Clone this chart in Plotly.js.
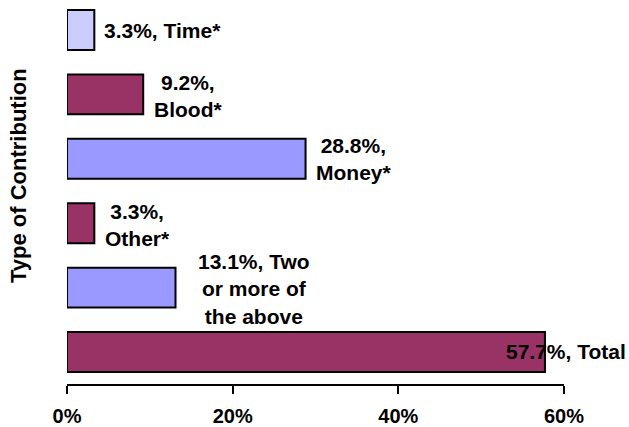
<!DOCTYPE html>
<html>
<head>
<meta charset="utf-8">
<script src="https://cdn.plot.ly/plotly-3.0.1.min.js"></script>
<style>html,body{margin:0;padding:0;background:#fff;}#chart{width:629px;height:427px;}</style>
</head>
<body>
<div id="chart"></div>
<script>
var categories = ["Time", "Blood", "Money", "Other", "Two or more of the above", "Total"];
var values = [3.3, 9.2, 28.8, 3.3, 13.1, 57.7];
var labels = ["3.3%, Time*", "9.2%,<br>Blood*", "28.8%,<br>Money*", "3.3%,<br>Other*", "13.1%, Two<br>or more of<br>the above", "57.7%, Total"];
var colors = ["#ccccff", "#993366", "#9999ff", "#993366", "#9999ff", "#993366"];
var tickVals = [0, 20, 40, 60];
var tickText = ["0%", "20%", "40%", "60%"];
var yTitle = "Type of Contribution";

var labelShift = [8, 9, 8, 9, 20, -41];
var labelYShift = [0, -2, 0, -2, -1, 0];

var font = "Liberation Sans, Arial, sans-serif";

var trace = {
  type: "bar",
  orientation: "h",
  x: values,
  y: categories,
  marker: {color: colors, line: {color: "#000", width: 2}},
  width: 0.62,
  hoverinfo: "none"
};

var annotations = values.map(function(v, i) {
  return {
    x: v, y: categories[i], xref: "x", yref: "y",
    text: "<b>" + labels[i] + "</b>",
    showarrow: false, xanchor: "left", yanchor: "middle",
    xshift: labelShift[i], yshift: labelYShift[i], align: "center",
    font: {family: font, size: 21, color: "#000"}
  };
});
annotations.push({
  xref: "paper", yref: "paper", x: 0, y: 0.5417,
  xshift: -48, xanchor: "center", yanchor: "middle",
  text: "<b>" + yTitle + "</b>", textangle: -90, showarrow: false,
  font: {family: font, size: 22, color: "#000"}
});

var layout = {
  width: 629, height: 427,
  margin: {l: 67, r: 65, t: 0, b: 43},
  paper_bgcolor: "#fff", plot_bgcolor: "#fff",
  showlegend: false,
  xaxis: {
    range: [0, 60], tickvals: tickVals, ticktext: tickText,
    ticks: "outside", ticklen: 8, tickwidth: 2, tickcolor: "#000",
    ticklabelstandoff: 5,
    showline: true, linecolor: "#000", linewidth: 2,
    showgrid: false, zeroline: false,
    tickfont: {family: font, size: 20, color: "#000", weight: "bold"},
    fixedrange: true
  },
  yaxis: {
    type: "category",
    categoryorder: "array", categoryarray: categories,
    range: [5.497, -0.466],
    showticklabels: false, ticks: "", showline: false, showgrid: false, zeroline: false,
    fixedrange: true
  },
  annotations: annotations
};

Plotly.newPlot("chart", [trace], layout, {displayModeBar: false, staticPlot: true});
</script>
</body>
</html>
